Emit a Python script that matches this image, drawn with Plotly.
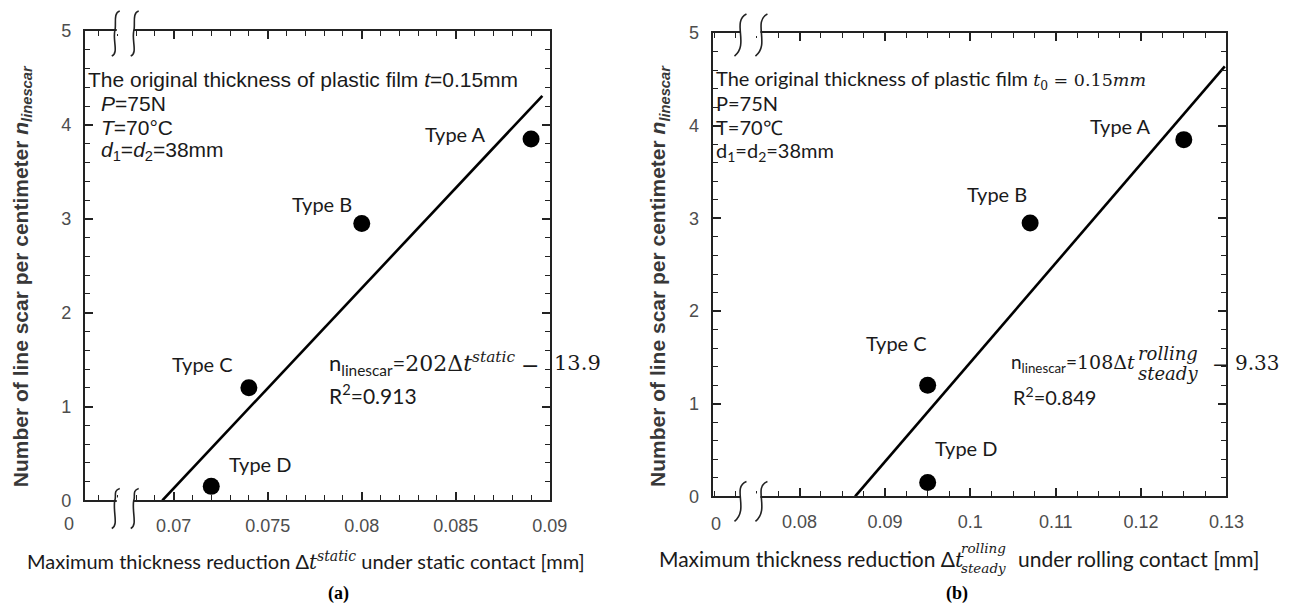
import plotly.graph_objects as go

W, H = 1289, 607

# ---------------- data ----------------
types = ["Type A", "Type B", "Type C", "Type D"]
n_linescar = [3.85, 2.95, 1.2, 0.15]
dt_static = [0.089, 0.080, 0.074, 0.072]
dt_rolling = [0.125, 0.107, 0.095, 0.095]

fit_static_x = [0.0694, 0.0896]
fit_static_y = [0.0, 4.31]
fit_rolling_x = [0.0865, 0.1298]
fit_rolling_y = [0.0, 4.64]

xticks_a = [0.07, 0.075, 0.08, 0.085, 0.09]
xtick_text_a = ["0.07", "0.075", "0.08", "0.085", "0.09"]
xticks_b = [0.08, 0.09, 0.10, 0.11, 0.12, 0.13]
xtick_text_b = ["0.08", "0.09", "0.1", "0.11", "0.12", "0.13"]
yticks = [0, 1, 2, 3, 4, 5]

# ---------------- helpers ----------------
# layout positions are given in target pixels; a small correction maps them to paper space
def tx(x):
    return (1.0121 * x + 1.0) / W

def ty(y):
    return 1 - (1.035 * y - 9.3) / H

def px(x, y):
    return tx(x), ty(y)

SANS = "Liberation Sans, Arial, sans-serif"
NARROW = "Liberation Sans Narrow, Liberation Sans, Arial, sans-serif"
CAL = "Lato, Carlito, Open Sans, sans-serif"
MATH = "DejaVu Serif, serif"
TIMES = "Liberation Serif, serif"
TXT = "#1a1a1a"

def m(s, size=None):
    st = "font-family:DejaVu Serif"
    if size:
        st += ";font-size:{}px".format(size)
    return "<span style='" + st + "'>" + s + "</span>"

annotations = []
def ann(x, y, text, size=17, family=SANS, xanchor="left", color=TXT, angle=0, yanchor="middle"):
    X, Y = px(x, y)
    annotations.append(dict(x=X, y=Y, xref="paper", yref="paper", text=text, showarrow=False,
                            xanchor=xanchor, yanchor=yanchor, textangle=angle, borderpad=0,
                            font=dict(size=size, family=family, color=color)))

# ---------------- figure ----------------
fig = go.Figure()

fig.add_trace(go.Scatter(x=fit_static_x, y=fit_static_y, mode="lines",
                         line=dict(color="black", width=2.6), xaxis="x", yaxis="y", hoverinfo="skip"))
fig.add_trace(go.Scatter(x=dt_static, y=n_linescar, mode="markers", text=types,
                         marker=dict(color="black", size=17), xaxis="x", yaxis="y"))
fig.add_trace(go.Scatter(x=fit_rolling_x, y=fit_rolling_y, mode="lines",
                         line=dict(color="black", width=2.6), xaxis="x2", yaxis="y2", hoverinfo="skip"))
fig.add_trace(go.Scatter(x=dt_rolling, y=n_linescar, mode="markers", text=types,
                         marker=dict(color="black", size=17), xaxis="x2", yaxis="y2"))

axis_common = dict(showline=True, linecolor="#222", linewidth=2, mirror="allticks",
                   ticks="inside", ticklen=8, tickwidth=1.6, tickcolor="#222",
                   showgrid=False, zeroline=False,
                   tickfont=dict(family=NARROW, size=18, color="#4d4d4d"))
minor_common = dict(ticks="inside", ticklen=5, tickwidth=1.3, tickcolor="#222")

xa = dict(axis_common)
xa.update(domain=[tx(84), tx(550)], range=[0.07 - 89 / 18850, 0.09], anchor="y",
          tickmode="array", tickvals=xticks_a, ticktext=xtick_text_a, ticklabelstandoff=8,
          minor=dict(minor_common, tick0=0.07, dtick=0.001))
ya = dict(axis_common)
ya.update(domain=[ty(499), ty(30)], range=[0, 5], anchor="x",
          tickmode="array", tickvals=yticks, ticklabelstandoff=8,
          minor=dict(minor_common, tick0=0, dtick=0.2))
xb = dict(axis_common)
xb.update(domain=[tx(713), tx(1228)], range=[0.0698, 0.13], anchor="y2",
          tickmode="array", tickvals=xticks_b, ticktext=xtick_text_b, ticklabelstandoff=8,
          minor=dict(minor_common, tick0=0.08, dtick=0.0025))
yb = dict(axis_common)
yb.update(domain=[ty(495), ty(32)], range=[0, 5], anchor="x2",
          tickmode="array", tickvals=yticks, ticklabelstandoff=8,
          minor=dict(minor_common, tick0=0, dtick=0.2))

# ---------------- break marks ----------------
shapes = []
def gap(x1, x2, y):
    X1, Y1 = px(x1, y - 3)
    X2, Y2 = px(x2, y + 3)
    shapes.append(dict(type="rect", xref="paper", yref="paper", x0=X1, x1=X2, y0=Y2, y1=Y1,
                       fillcolor="white", line=dict(width=0), layer="above"))

def pathstr(pts):
    P = [px(*p) for p in pts]
    s = "M {},{}".format(*P[0])
    for i in range(1, len(P), 3):
        s += " C {},{} {},{} {},{}".format(*P[i], *P[i + 1], *P[i + 2])
    return s

def paren(cx, cy, t, b):
    pts = [(cx + 4, cy - t), (cx - 3, cy - t + 2), (cx + 1, cy - t * 0.3), (cx - 1, cy),
           (cx - 3, cy + b * 0.4), (cx + 3, cy + b - 3), (cx - 4, cy + b)]
    shapes.append(dict(type="path", xref="paper", yref="paper", path=pathstr(pts),
                       line=dict(color="#222", width=1.6), layer="above"))

def scurve(cx, cy, t, b):
    pts = [(cx + 6, cy - t), (cx - 9, cy - t * 0.6), (cx + 9, cy + b * 0.5), (cx - 6, cy + b)]
    shapes.append(dict(type="path", xref="paper", yref="paper", path=pathstr(pts),
                       line=dict(color="#222", width=1.6), layer="above"))

# panel (a)
gap(116, 133, 30)
gap(116, 133, 499)
for cx in (115, 134):
    paren(cx, 30, 20, 25)
    paren(cx, 499, 12, 28)
# panel (b)
gap(741, 761, 32)
gap(741, 761, 495)
for cx in (741, 762):
    scurve(cx, 32, 19, 23)
    scurve(cx, 495, 15, 25)

YTITLE = "<b>Number of line scar per centimeter <i>n</i><sub><i>linescar</i></sub></b>"

# ---------------- texts panel (a) ----------------
ann(68, 523, "0", 18, NARROW, "center", "#4d4d4d")
ann(86, 78, "The original thickness of plastic film <i>t</i>=0.15mm", 21, SANS)
ann(99, 102, "<i>P</i>=75N", 21, SANS)
ann(99, 126, "<i>T</i>=70\u00b0C", 21, SANS)
ann(99, 150, "<i>d</i><sub>1</sub>=<i>d</i><sub>2</sub>=38mm", 21, SANS)
ann(455, 133, "Type A", 20, CAL, "center")
ann(322, 203, "Type B", 20, CAL, "center")
ann(202, 363, "Type C", 20, CAL, "center")
ann(260, 463, "Type D", 20, CAL, "center")
ann(328, 362, "n<sub>linescar</sub>=" + m("202Δ<i>t</i><sup><i>static</i></sup>"), 22, CAL)
ann(530, 364, "\u2212", 22, MATH, "center")
ann(553, 362, "13.9", 21, MATH)
ann(328, 393, "R<sup>2</sup>=0.913", 21, CAL)
ann(21, 275, YTITLE, 21, SANS, "center", "#383838", -90)
ann(306, 559, "Maximum thickness reduction Δ" + m("<i>t</i><sup><i>static</i></sup>") +
    " under static contact [mm]", 20, CAL, "center")
ann(338, 592, "<b>(a)</b>", 18, TIMES, "center", "black")

# ---------------- texts panel (b) ----------------
ann(716, 523, "0", 18, NARROW, "center", "#4d4d4d")
ann(715, 78, "The original thickness of plastic film " +
    m("<i>t</i><sub>0</sub> = 0.15<i>mm</i>", 17.5), 20, CAL)
ann(715, 102, "P=75N", 20, CAL)
ann(715, 126, "T=70\u2103", 20, CAL)
ann(715, 150, "d<sub>1</sub>=d<sub>2</sub>=38mm", 20, CAL)
ann(1122, 125, "Type A", 20, CAL, "center")
ann(998, 193, "Type B", 20, CAL, "center")
ann(897, 342, "Type C", 20, CAL, "center")
ann(967, 447, "Type D", 20, CAL, "center")
ann(1137, 362, "n<sub>linescar</sub>=" + m("108Δ<i>t</i>"), 19, CAL, "right")
ann(1138, 352, "<i>rolling</i>", 18, MATH)
ann(1138, 372, "<i>steady</i>", 18, MATH)
ann(1222, 364, "\u2212", 21, MATH, "center")
ann(1236, 362, "9.33", 20, MATH)
ann(1013, 395, "R<sup>2</sup>=0.849", 20, CAL)
ann(660, 275, YTITLE, 21, SANS, "center", "#383838", -90)
ann(966, 557, "Maximum thickness reduction Δ" + m("<i>t</i>"), 21, CAL, "right")
ann(961, 547, "<i>rolling</i>", 13.5, MATH)
ann(961, 566, "<i>steady</i>", 13.5, MATH)
ann(1018, 557, "under rolling contact [mm]", 21, CAL)
ann(958, 592, "<b>(b)</b>", 18, TIMES, "center", "black")

fig.update_layout(width=W, height=H, margin=dict(l=0, r=0, t=0, b=0),
                  paper_bgcolor="white", plot_bgcolor="white", showlegend=False,
                  xaxis=xa, yaxis=ya, xaxis2=xb, yaxis2=yb,
                  annotations=annotations, shapes=shapes)

fig.write_html("out.html")
